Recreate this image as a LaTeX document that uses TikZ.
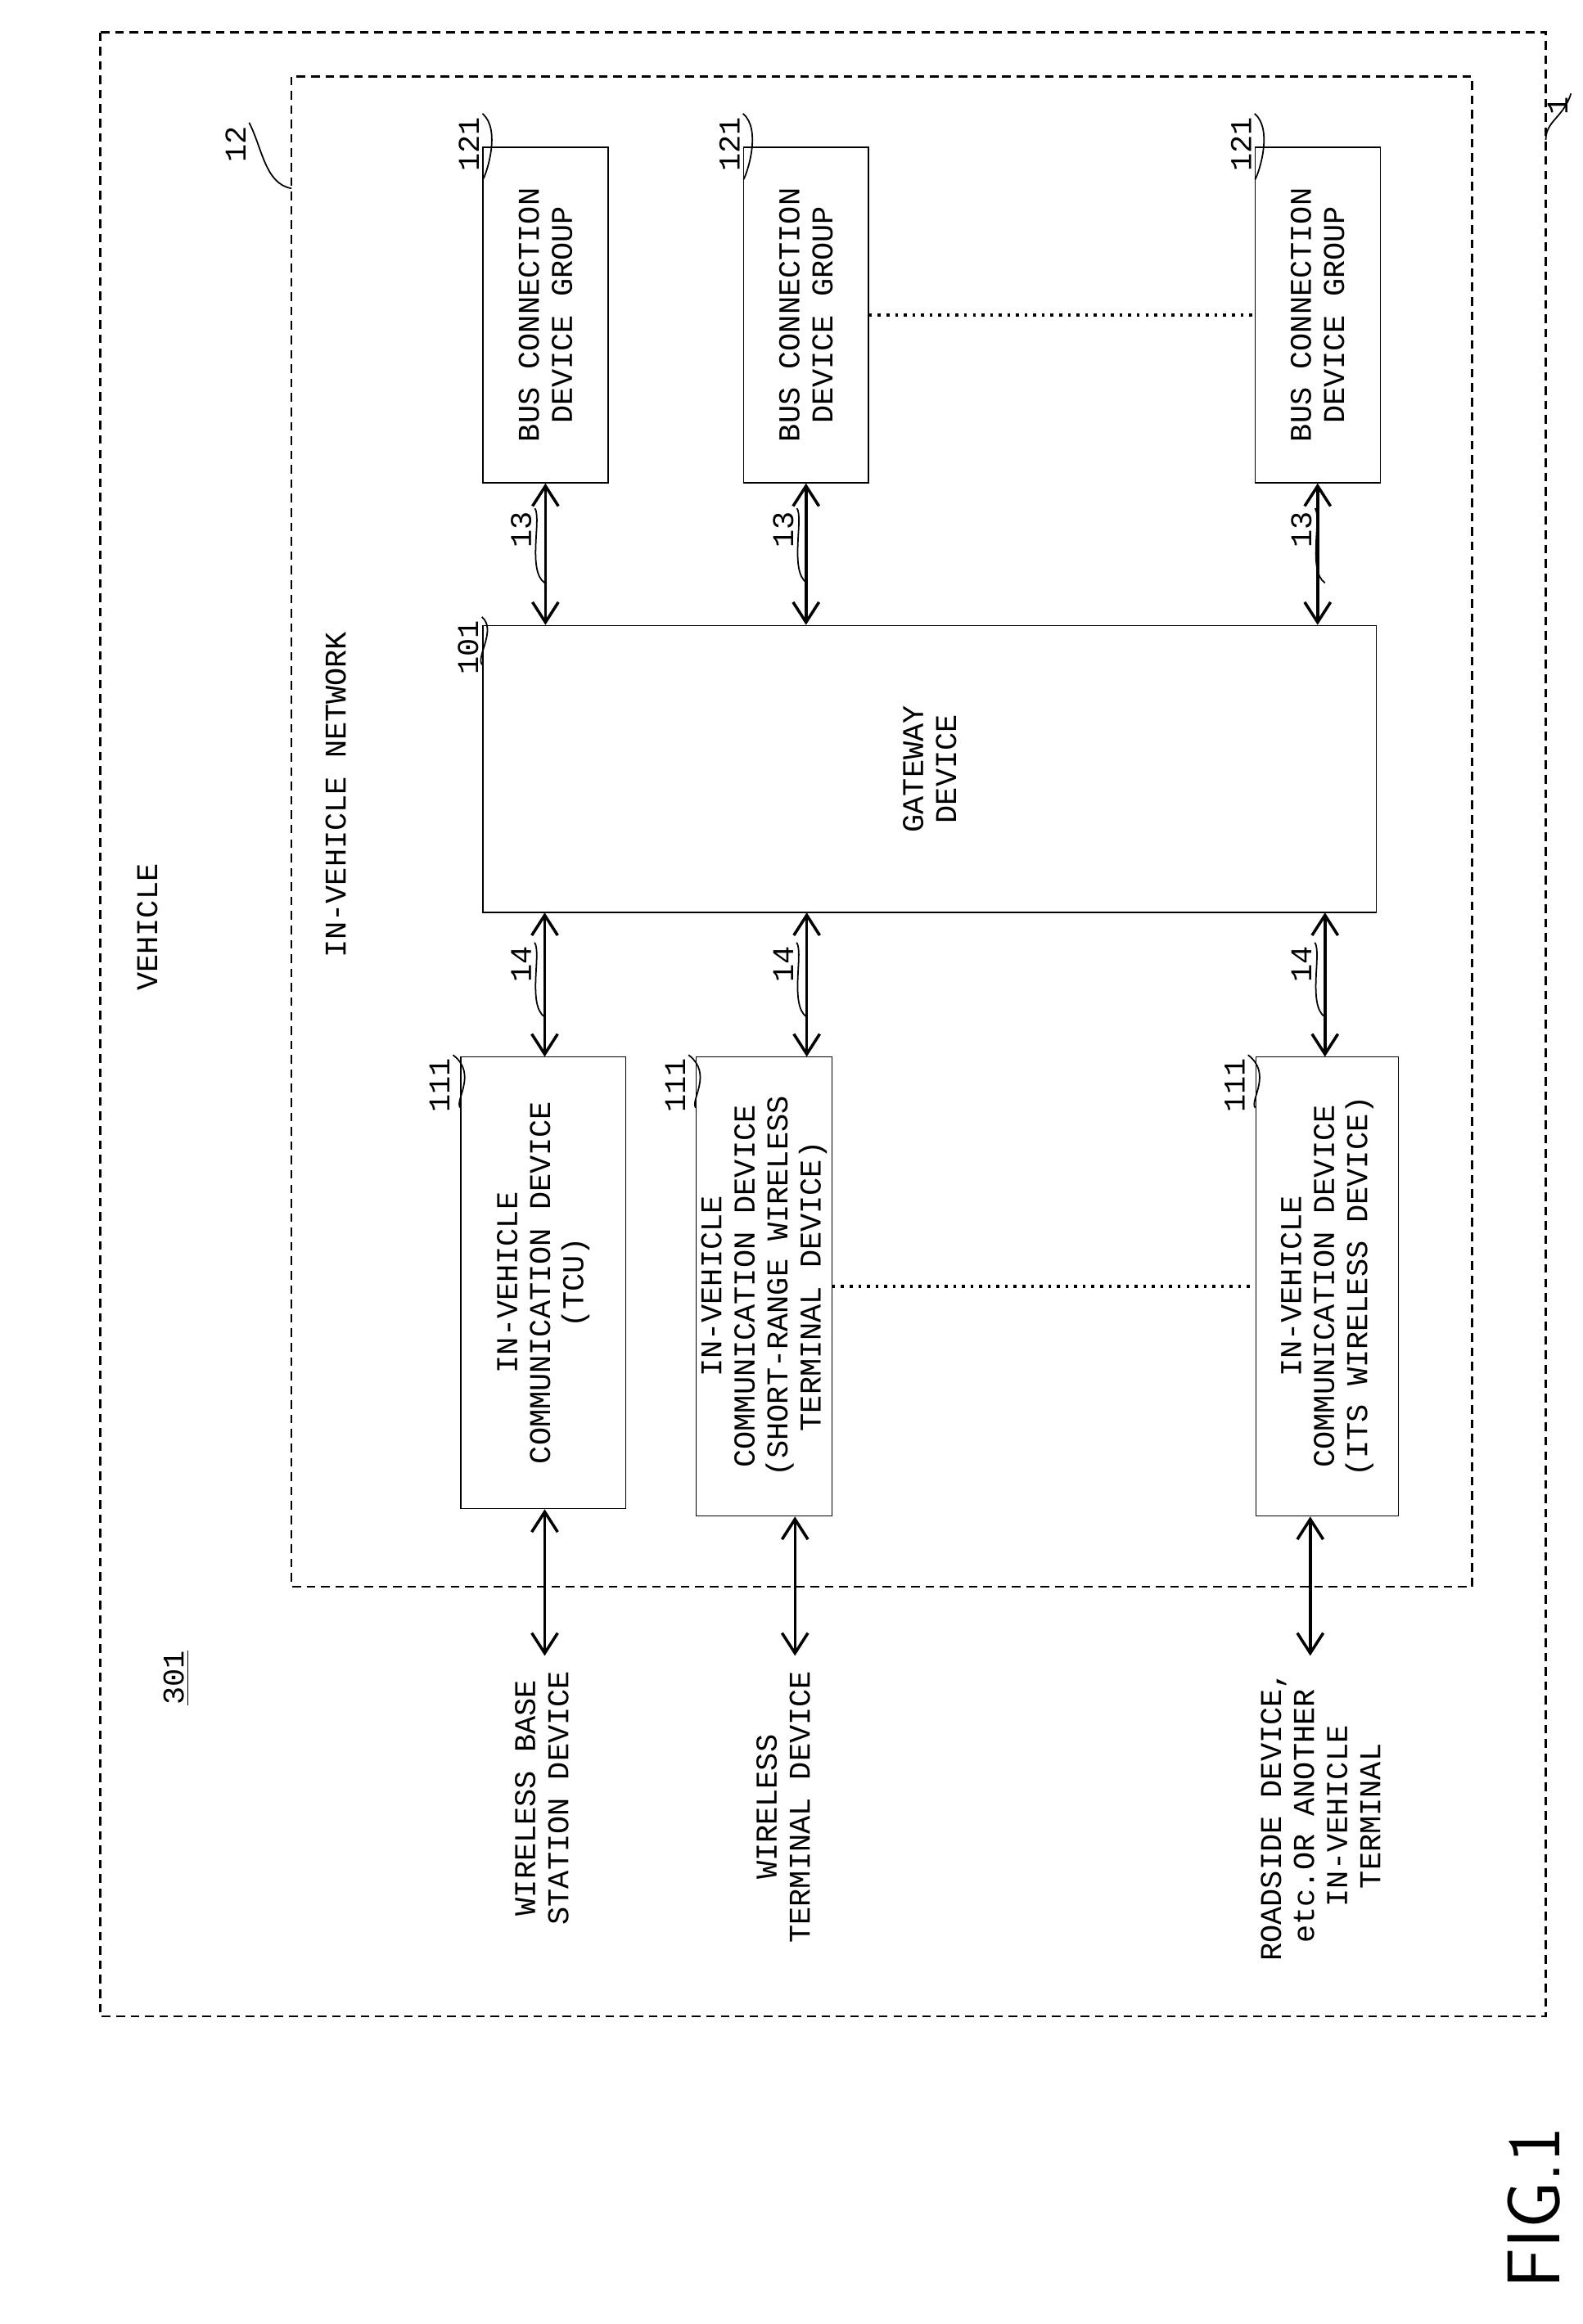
\documentclass[tikz,border=0pt]{standalone}
\usepackage{fontspec}
\setmonofont{Liberation Mono}
\usetikzlibrary{arrows.meta}
\newcommand\px{0.01798cm}

\begin{document}
\begin{tikzpicture}[x=\px, y=-\px, font=\ttfamily\fontsize{10.5}{11.5}\selectfont,
		box/.style={draw, rotate=90, align=center, inner sep=0pt},
		txt/.style={rotate=90, align=center, inner sep=0pt},
		lab/.style={rotate=90, inner sep=1pt},
		link/.style={{Straight Barb[length=7pt,width=9pt]}-{Straight Barb[length=7pt,width=9pt]}, line width=1pt},
		lead/.style={line width=0.5pt},
		frame/.style={densely dashed, line width=0.7pt}]
	\useasboundingbox (0,0) rectangle (1075,1579);
	% 外框: 车辆与车内网络
	\draw[frame] (68,22) rectangle (1050,1370);
	\draw[frame] (198,52) rectangle (1000,1078);
	\node[lab] (l1) at (1058,72) {1};
	\draw[lead] (l1.south east) .. controls (1062,80) and (1050,82) .. (1050,95);
	\node[lab] (l12) at (160,98) {12};
	\draw[lead] (l12.south east) .. controls (178,100) and (180,125) .. (198,128);
	\node[txt] (veh) at (100,630) {VEHICLE};
	\node[txt] (net) at (228,540) {IN-VEHICLE NETWORK};
	\node[txt] (sys) at (120,1140) {\underline{301}};
	% 总线连接设备组
	\foreach \n/\x in {bA/370.5, bB/547.5, bC/895} {
		\node[box, minimum width=228*\px, minimum height=85*\px] (\n) at (\x,214)
			{BUS CONNECTION\\DEVICE GROUP};
		\node[lab] (\n l) at (\x-52,98) {121};
		\draw[lead] (\n l.south east) .. controls (\x-30,88) and (\x-40,118) .. (\x-42.5,122);
	}
	\draw[dotted, line width=1pt] (bB.south) -- (bC.north);
	% 网关
	\node[box, minimum width=195*\px, minimum height=607*\px] (gw) at (631.5,522.5)
		{GATEWAY\\DEVICE};
	\node[lab] (gwl) at (318,440) {101};
	\draw[lead] (gwl.south east) .. controls (338,428) and (322,448) .. (328,452);
	% 车载通信设备
	\node[box, minimum width=307*\px, minimum height=112*\px] (cA) at (369,871.5)
		{IN-VEHICLE\\COMMUNICATION DEVICE\\(TCU)};
	\node[box, minimum width=312*\px, minimum height=92*\px] (cB) at (519,874)
		{IN-VEHICLE\\COMMUNICATION DEVICE\\(SHORT-RANGE WIRELESS\\TERMINAL DEVICE)};
	\node[box, minimum width=312*\px, minimum height=97*\px] (cC) at (901.5,874)
		{IN-VEHICLE\\COMMUNICATION DEVICE\\(ITS WIRELESS DEVICE)};
	\foreach \n in {cA, cB, cC} {
		\node[lab] (\n l) at ([xshift=-14*\px, yshift=-20*\px]\n.north east) {111};
		\draw[lead] (\n l.south east) .. controls ([xshift=12*\px, yshift=-12*\px]\n.north east)
			and ([xshift=-4*\px, yshift=-30*\px]\n.north east) .. ([yshift=-35*\px]\n.north east);
	}
	\draw[dotted, line width=1pt] (cB.south) -- (cC.north);
	% 总线与内部连线
	\foreach \b/\c/\x in {bA/cA/370, bB/cB/548, bC/cC/900} {
		\draw[link] (\b.west) -- (\b.west |- gw.east);
		\node[lab] (\b n) at (\x-16,360) {13};
		\draw[lead] (\b n.south east) .. controls (\x-2,352) and (\x-12,388) .. (\x,396);
		\draw[link] (\x,620) -- (\x,718);
		\node[lab] (\c n) at (\x-16,655) {14};
		\draw[lead] (\c n.south east) .. controls (\x-2,647) and (\x-12,683) .. (\x,691);
	}
	% 外部设备
	\node[txt, anchor=east] (exA) at (368,1135) {WIRELESS BASE\\STATION DEVICE};
	\node[txt, anchor=east] (exB) at (532,1135) {WIRELESS\\TERMINAL DEVICE};
	\node[txt, anchor=east] (exC) at (897,1135) {ROADSIDE DEVICE,\\etc.OR ANOTHER\\IN-VEHICLE\\TERMINAL};
	\coordinate (tA) at (370,1125);
	\coordinate (tB) at (540,1125);
	\coordinate (tC) at (890,1125);
	\draw[link] (cA.west -| tA) -- (tA);
	\draw[link] (cB.west -| tB) -- (tB);
	\draw[link] (cC.west -| tC) -- (tC);
	\node[rotate=90, font=\sffamily\fontsize{26}{30}\selectfont] (fig) at (1042,1500) {FIG.1};
\end{tikzpicture}
\end{document}
